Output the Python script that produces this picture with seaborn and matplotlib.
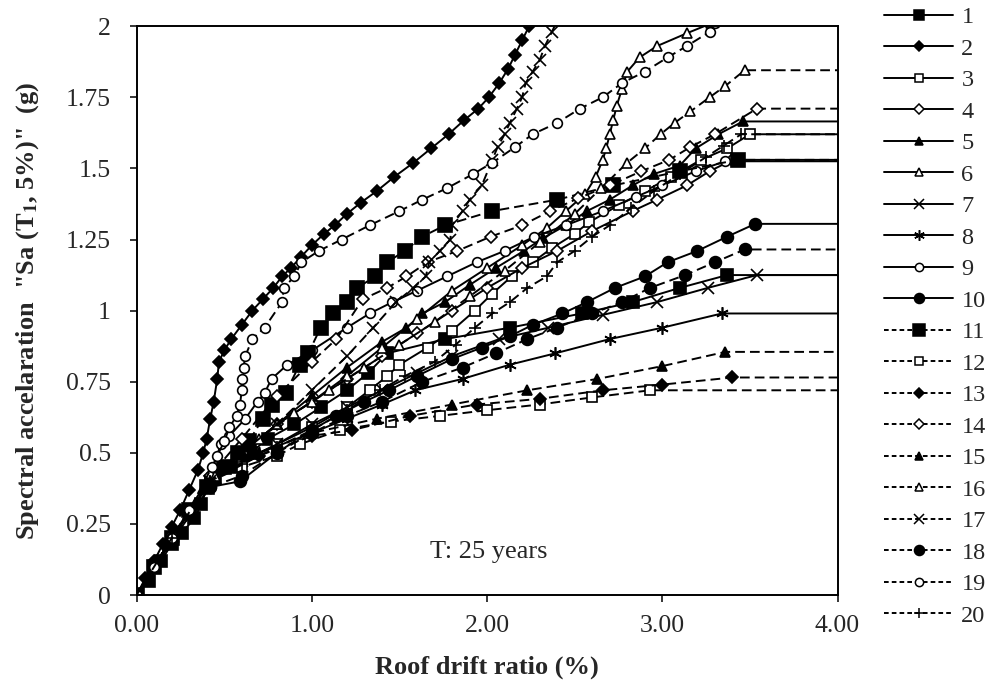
import matplotlib
matplotlib.use("Agg")
import matplotlib.pyplot as plt
import seaborn as sns
from matplotlib.lines import Line2D

# ---------------- data (roof drift %, Sa g) ----------------
c1_x = [0, 0.07, 0.14, 0.20, 0.26, 0.33, 0.37, 0.40, 0.45, 0.55, 0.65, 0.75, 0.90, 1.05, 1.20, 1.32, 1.43, 1.76, 2.13, 2.54, 2.83, 3.10, 3.37]
c1_y = [0, 0.05, 0.12, 0.18, 0.22, 0.27, 0.32, 0.38, 0.41, 0.45, 0.50, 0.55, 0.60, 0.66, 0.72, 0.78, 0.85, 0.90, 0.94, 0.99, 1.03, 1.08, 1.125]

c2_x = [0, 0.05, 0.10, 0.15, 0.20, 0.25, 0.30, 0.35, 0.38, 0.40, 0.42, 0.44, 0.46, 0.47, 0.50, 0.54, 0.60, 0.66, 0.72, 0.78, 0.83, 0.88, 0.94, 1.00, 1.07, 1.13, 1.20, 1.28, 1.37, 1.47, 1.58, 1.68, 1.78, 1.87, 1.95, 2.01, 2.07, 2.12, 2.16, 2.20, 2.24]
c2_y = [0, 0.06, 0.12, 0.18, 0.24, 0.30, 0.37, 0.44, 0.50, 0.55, 0.62, 0.68, 0.76, 0.82, 0.86, 0.90, 0.95, 1.00, 1.04, 1.08, 1.12, 1.15, 1.19, 1.23, 1.27, 1.30, 1.34, 1.38, 1.42, 1.47, 1.52, 1.57, 1.62, 1.67, 1.71, 1.75, 1.80, 1.85, 1.90, 1.95, 2.00]

c3_x = [0, 0.20, 0.42, 0.60, 0.80, 1.00, 1.20, 1.33, 1.43, 1.50, 1.66, 1.80, 1.93, 2.03, 2.14, 2.26, 2.37, 2.50, 2.58, 2.75, 2.90, 3.05, 3.22, 3.37, 3.50]
c3_y = [0, 0.20, 0.40, 0.47, 0.53, 0.59, 0.66, 0.72, 0.77, 0.81, 0.87, 0.93, 1.00, 1.06, 1.12, 1.17, 1.22, 1.27, 1.31, 1.37, 1.42, 1.47, 1.53, 1.57, 1.62]

c4_x = [0, 0.20, 0.42, 0.60, 0.80, 1.00, 1.20, 1.40, 1.60, 1.80, 2.00, 2.20, 2.40, 2.60, 2.83, 2.97, 3.14, 3.27, 3.40]
c4_y = [0, 0.20, 0.40, 0.50, 0.60, 0.68, 0.76, 0.84, 0.92, 1.00, 1.08, 1.15, 1.21, 1.28, 1.35, 1.39, 1.44, 1.49, 1.53]

c5_x = [0, 0.20, 0.42, 0.60, 0.80, 1.00, 1.20, 1.40, 1.54, 1.63, 1.76, 1.90, 2.05, 2.21, 2.32, 2.45, 2.57, 2.70, 2.83, 2.95, 3.10, 3.19, 3.32, 3.46]
c5_y = [0, 0.20, 0.40, 0.50, 0.60, 0.70, 0.80, 0.89, 0.94, 0.99, 1.03, 1.09, 1.15, 1.21, 1.255, 1.30, 1.35, 1.39, 1.44, 1.48, 1.51, 1.57, 1.62, 1.665]

c6_x = [0, 0.20, 0.42, 0.60, 0.80, 1.00, 1.20, 1.40, 1.60, 1.80, 2.00, 2.20, 2.34, 2.45, 2.56, 2.62, 2.66, 2.68, 2.70, 2.72, 2.74, 2.77, 2.80, 2.87, 2.97, 3.14, 3.28]
c6_y = [0, 0.20, 0.40, 0.50, 0.60, 0.68, 0.77, 0.87, 0.97, 1.07, 1.15, 1.23, 1.29, 1.35, 1.41, 1.47, 1.53, 1.57, 1.62, 1.67, 1.72, 1.78, 1.84, 1.89, 1.93, 1.975, 2.01]

c7_x = [0, 0.20, 0.42, 0.60, 0.80, 1.00, 1.20, 1.40, 1.60, 1.80, 2.07, 2.35, 2.66, 2.97, 3.26, 3.54]
c7_y = [0, 0.20, 0.40, 0.47, 0.53, 0.60, 0.66, 0.72, 0.78, 0.84, 0.90, 0.94, 0.985, 1.03, 1.08, 1.125]

c8_x = [0, 0.20, 0.42, 0.70, 1.00, 1.20, 1.40, 1.59, 1.86, 2.13, 2.39, 2.70, 3.00, 3.34]
c8_y = [0, 0.20, 0.40, 0.50, 0.57, 0.62, 0.67, 0.72, 0.76, 0.81, 0.85, 0.90, 0.94, 0.99]

c9_x = [0, 0.20, 0.42, 0.48, 0.53, 0.62, 0.69, 0.73, 0.77, 0.86, 1.00, 1.20, 1.33, 1.46, 1.60, 1.77, 1.94, 2.10, 2.27, 2.45, 2.66, 2.85, 3.00, 3.19, 3.36]
c9_y = [0, 0.20, 0.42, 0.53, 0.56, 0.62, 0.68, 0.71, 0.76, 0.81, 0.86, 0.94, 0.99, 1.03, 1.07, 1.12, 1.17, 1.21, 1.26, 1.30, 1.35, 1.40, 1.44, 1.49, 1.525]

c10_x = [0, 0.20, 0.42, 0.59, 0.80, 1.00, 1.14, 1.30, 1.44, 1.60, 1.80, 1.97, 2.13, 2.26, 2.43, 2.57, 2.73, 2.90, 3.03, 3.20, 3.37, 3.53]
c10_y = [0, 0.19, 0.38, 0.40, 0.50, 0.58, 0.63, 0.68, 0.72, 0.77, 0.83, 0.87, 0.91, 0.95, 0.99, 1.03, 1.08, 1.12, 1.17, 1.21, 1.26, 1.305]

c11_x = [0, 0.10, 0.20, 0.30, 0.40, 0.50, 0.58, 0.64, 0.72, 0.77, 0.85, 0.93, 0.98, 1.05, 1.12, 1.20, 1.26, 1.36, 1.43, 1.53, 1.63, 1.76, 2.03, 2.40, 2.72, 3.10, 3.43]
c11_y = [0, 0.10, 0.20, 0.30, 0.38, 0.45, 0.50, 0.54, 0.62, 0.67, 0.71, 0.81, 0.85, 0.94, 0.99, 1.03, 1.08, 1.12, 1.17, 1.21, 1.26, 1.30, 1.35, 1.39, 1.44, 1.49, 1.53]

c12_x = [0, 0.20, 0.42, 0.60, 0.80, 0.93, 1.16, 1.45, 1.73, 2.00, 2.30, 2.60, 2.93]
c12_y = [0, 0.20, 0.40, 0.45, 0.49, 0.53, 0.58, 0.61, 0.63, 0.65, 0.67, 0.695, 0.72]

c13_x = [0, 0.20, 0.42, 0.70, 1.00, 1.23, 1.56, 1.94, 2.30, 2.66, 3.00, 3.40]
c13_y = [0, 0.20, 0.40, 0.49, 0.56, 0.58, 0.63, 0.67, 0.69, 0.72, 0.74, 0.765]

c14_x = [0, 0.20, 0.42, 0.60, 0.80, 1.00, 1.14, 1.29, 1.43, 1.54, 1.66, 1.83, 2.02, 2.20, 2.36, 2.52, 2.70, 2.88, 3.04, 3.16, 3.30, 3.54]
c14_y = [0, 0.20, 0.42, 0.55, 0.70, 0.82, 0.90, 1.04, 1.08, 1.12, 1.17, 1.21, 1.26, 1.30, 1.35, 1.395, 1.44, 1.49, 1.53, 1.575, 1.62, 1.71]

c15_x = [0, 0.20, 0.42, 0.70, 1.00, 1.37, 1.80, 2.23, 2.63, 3.00, 3.36]
c15_y = [0, 0.20, 0.40, 0.50, 0.57, 0.62, 0.67, 0.72, 0.76, 0.805, 0.855]

c16_x = [0, 0.20, 0.45, 0.70, 0.90, 1.10, 1.30, 1.50, 1.70, 1.90, 2.10, 2.30, 2.50, 2.65, 2.80, 2.90, 2.99, 3.07, 3.16, 3.27, 3.36, 3.47]
c16_y = [0, 0.20, 0.42, 0.55, 0.64, 0.72, 0.80, 0.88, 0.96, 1.05, 1.14, 1.24, 1.34, 1.43, 1.52, 1.57, 1.62, 1.66, 1.70, 1.75, 1.79, 1.845]

c17_x = [0, 0.20, 0.42, 0.60, 0.80, 1.00, 1.20, 1.35, 1.48, 1.58, 1.65, 1.67, 1.73, 1.79, 1.80, 1.86, 1.90, 1.97, 2.03, 2.06, 2.10, 2.13, 2.17, 2.20, 2.22, 2.26, 2.30, 2.33, 2.37, 2.40]
c17_y = [0, 0.20, 0.40, 0.50, 0.60, 0.72, 0.84, 0.94, 1.03, 1.08, 1.12, 1.17, 1.21, 1.25, 1.30, 1.35, 1.39, 1.44, 1.53, 1.575, 1.62, 1.66, 1.71, 1.75, 1.80, 1.84, 1.88, 1.93, 1.98, 2.02]

c18_x = [0, 0.20, 0.42, 0.60, 0.80, 1.00, 1.20, 1.40, 1.63, 1.86, 2.05, 2.23, 2.40, 2.60, 2.77, 2.93, 3.13, 3.30, 3.47]
c18_y = [0, 0.19, 0.38, 0.42, 0.50, 0.57, 0.63, 0.68, 0.75, 0.80, 0.85, 0.90, 0.94, 0.99, 1.03, 1.08, 1.125, 1.17, 1.215]

c19_x = [0, 0.10, 0.20, 0.30, 0.43, 0.46, 0.50, 0.53, 0.57, 0.59, 0.60, 0.60, 0.61, 0.62, 0.66, 0.73, 0.83, 0.84, 0.90, 0.94, 1.04, 1.17, 1.33, 1.50, 1.63, 1.77, 1.92, 2.03, 2.16, 2.26, 2.40, 2.53, 2.66, 2.77, 2.90, 3.03, 3.14, 3.27, 3.30]
c19_y = [0, 0.10, 0.20, 0.30, 0.45, 0.49, 0.54, 0.59, 0.63, 0.67, 0.72, 0.76, 0.80, 0.84, 0.90, 0.94, 1.03, 1.08, 1.12, 1.17, 1.21, 1.25, 1.30, 1.35, 1.39, 1.43, 1.48, 1.52, 1.575, 1.62, 1.66, 1.71, 1.75, 1.80, 1.84, 1.89, 1.93, 1.98, 2.01]

c20_x = [0, 0.20, 0.42, 0.60, 0.80, 1.00, 1.20, 1.39, 1.53, 1.70, 1.82, 1.93, 2.03, 2.13, 2.23, 2.34, 2.40, 2.50, 2.60, 2.70, 2.82, 2.95, 3.10, 3.25, 3.35, 3.45]
c20_y = [0, 0.20, 0.40, 0.46, 0.52, 0.58, 0.65, 0.72, 0.77, 0.82, 0.88, 0.94, 0.99, 1.03, 1.08, 1.12, 1.17, 1.21, 1.26, 1.30, 1.36, 1.42, 1.48, 1.54, 1.58, 1.62]

curve_labels = [str(i) for i in range(1, 21)]
x_ticks = [0, 1, 2, 3, 4]
x_tick_labels = ["0.00", "1.00", "2.00", "3.00", "4.00"]
y_ticks = [0, 0.25, 0.5, 0.75, 1.0, 1.25, 1.5, 1.75, 2.0]
y_tick_labels = ["0", "0.25", "0.5", "0.75", "1", "1.25", "1.5", "1.75", "2"]
annotation = "T: 25 years"

curves_x = [c1_x, c2_x, c3_x, c4_x, c5_x, c6_x, c7_x, c8_x, c9_x, c10_x,
            c11_x, c12_x, c13_x, c14_x, c15_x, c16_x, c17_x, c18_x, c19_x, c20_x]
curves_y = [c1_y, c2_y, c3_y, c4_y, c5_y, c6_y, c7_y, c8_y, c9_y, c10_y,
            c11_y, c12_y, c13_y, c14_y, c15_y, c16_y, c17_y, c18_y, c19_y, c20_y]

# ---------------- styles ----------------
ASTER = (6, 2, 0)
marker_seq = ["s", "D", "s", "D", "^", "^", "x", ASTER, "o", "o",
              "s", "s", "D", "D", "^", "^", "x", "o", "o", "+"]
filled_seq = [True, True, False, False, True, False, True, True, False, True,
              True, False, True, False, True, False, True, True, False, True]
size_seq = [9, 6, 7, 6.5, 7.5, 7.5, 8, 9, 7, 8.5,
            9.5, 7, 6, 6.5, 7.5, 7.5, 8, 8.5, 7, 8]
dash_pat = (5, 2.6)

sns.set_style("white")
plt.rcParams["font.family"] = ["Liberation Serif", "DejaVu Serif"]
plt.rcParams["mathtext.fontset"] = "stix"

fig = plt.figure(figsize=(9.9, 6.88), dpi=100)
ax = fig.add_axes([0.138, 0.135, 0.708, 0.827])

X_END = 4.0
handles = []
for i in range(20):
    dashed = i >= 10
    xs = list(curves_x[i])
    ys = list(curves_y[i])
    n = len(xs)
    if ys[-1] < 2.0:
        xs.append(X_END)
        ys.append(ys[-1])
    mk = marker_seq[i]
    ms = size_seq[i]
    mfc = "black" if filled_seq[i] else "white"
    kw = dict(color="black", marker=mk, markersize=ms, markerfacecolor=mfc,
              markeredgecolor="black", markeredgewidth=1.2, linewidth=1.4,
              markevery=list(range(n)))
    if dashed:
        kw["dashes"] = dash_pat
    sns.lineplot(x=xs, y=ys, ax=ax, sort=False, estimator=None, legend=False, **kw)
    hkw = dict(color="black", marker=mk, markersize=ms * 0.85, markerfacecolor=mfc,
               markeredgecolor="black", markeredgewidth=1.1, linewidth=1.4)
    h = Line2D([0], [0], **hkw)
    if dashed:
        h.set_dashes((2.4, 1.6))
    handles.append(h)

ax.set_xlim(0, 4)
ax.set_ylim(0, 2)
ax.set_xticks(x_ticks)
ax.set_xticklabels(x_tick_labels)
ax.set_yticks(y_ticks)
ax.set_yticklabels(y_tick_labels)
ax.tick_params(axis="both", which="both", direction="out", length=5, width=1.3,
               labelsize=18.5, left=True, bottom=True, top=False, right=False)
ax.tick_params(axis="y", pad=13.5)
ax.tick_params(axis="x", pad=9)
for sp in ax.spines.values():
    sp.set_color("black")
    sp.set_linewidth(1.4)

ax.set_xlabel("Roof drift ratio (%)", fontsize=19, fontweight="bold", labelpad=14)
ax.set_ylabel('Spectral accelaration  "Sa (T$_{\\mathbf{1}}$, 5%)"  (g)',
              fontsize=19, fontweight="bold", labelpad=18)
ax.text(2.01, 0.15, annotation, fontsize=19, ha="center", va="center")

fig.legend(handles, curve_labels, loc="upper left", bbox_to_anchor=(0.893, 0.991),
           frameon=False, fontsize=17.5, handlelength=2.85, handletextpad=0.33,
           labelspacing=0.39, borderaxespad=0.0, borderpad=0.0)

fig.savefig("out.png", dpi=100)
